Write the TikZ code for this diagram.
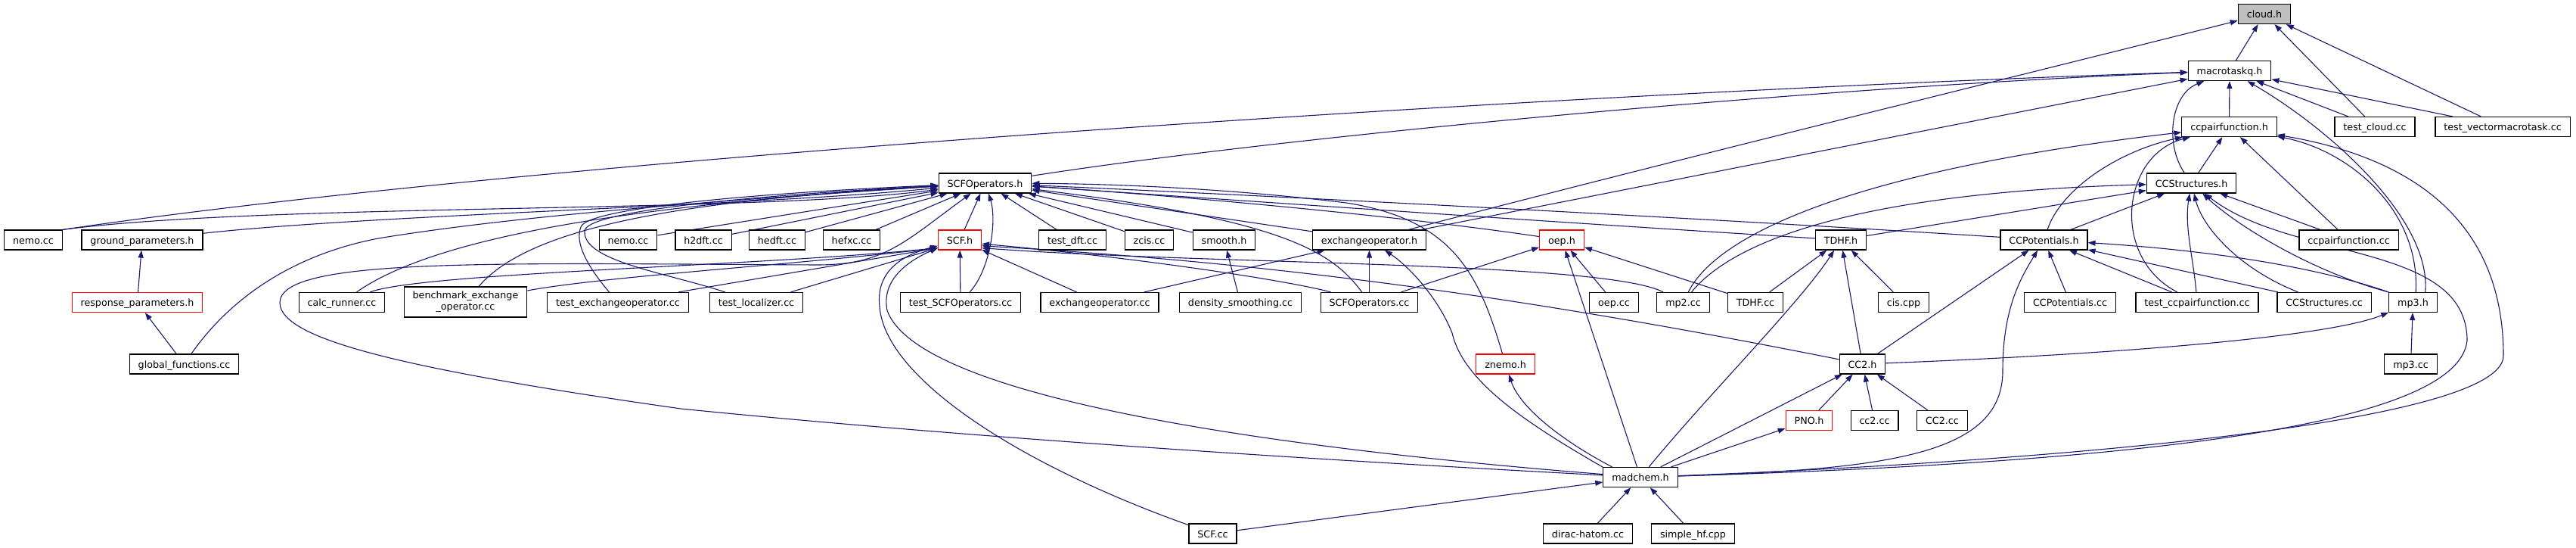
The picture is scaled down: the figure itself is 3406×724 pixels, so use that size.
\documentclass[tikz,border=0pt]{standalone}
\usepackage{fontspec}
\setmainfont{DejaVu Sans}
\usetikzlibrary{arrows.meta,backgrounds}
\definecolor{mblue}{HTML}{191970}
\definecolor{tred}{HTML}{FF0000}
\definecolor{cgray}{HTML}{BFBFBF}
\newcommand\dgf{\fontsize{12.7bp}{15bp}\selectfont}
\tikzset{
 box/.style={rectangle, draw=black, line width=1.2bp, fill=white, minimum height=26bp, inner xsep=11.4bp, inner ysep=0bp, font=\dgf},
 nd/.style={box, text height=10.5bp, text depth=0.5bp},
 ndr/.style={nd, draw=tred},
 ndg/.style={nd, fill=cgray},
 e/.style={draw=mblue, line width=1.1bp, -{Triangle[length=10bp,width=7bp]}},
}
\begin{document}
\begin{tikzpicture}[x=1bp, y=-1bp]
\useasboundingbox (0,0) rectangle (3406,724);
% nodes
\node[ndg] (cloud) at (2994,18.5) {cloud.h};
\node[nd] (macro) at (2948,93.5) {macrotaskq.h};
\node[nd] (ccpfh) at (2947.5,167.5) {ccpairfunction.h};
\node[nd] (tcloud) at (3140,167.5) {test\_cloud.cc};
\node[nd] (tvmt) at (3309,167.5) {test\_vectormacrotask.cc};
\node[nd] (scfoph) at (1302.5,242) {SCFOperators.h};
\node[nd] (ccstrh) at (2897.5,242) {CCStructures.h};
\node[nd] (nemoa) at (44,317) {nemo.cc};
\node[nd] (groundp) at (188,317) {ground\_parameters.h};
\node[nd] (nemob) at (830.5,317) {nemo.cc};
\node[nd] (htwodft) at (930,317) {h2dft.cc};
\node[nd] (hedft) at (1027.5,317) {hedft.cc};
\node[nd] (hefxc) at (1126,317) {hefxc.cc};
\node[ndr] (scfh) at (1269,317) {SCF.h};
\node[nd] (tdft) at (1418,317) {test\_dft.cc};
\node[nd] (zcis) at (1519.5,317) {zcis.cc};
\node[nd] (smooth) at (1618.5,317) {smooth.h};
\node[nd] (exoph) at (1810.5,317) {exchangeoperator.h};
\node[ndr] (oeph) at (2065,317) {oep.h};
\node[nd] (tdhfh) at (2434,317) {TDHF.h};
\node[nd] (ccpoth) at (2702.5,317) {CCPotentials.h};
\node[nd] (ccpfcc) at (3105.5,317) {ccpairfunction.cc};
\node[ndr] (respp) at (181.5,399.5) {response\_parameters.h};
\node[nd] (calc) at (452,399.5) {calc\_runner.cc};
\node[box, align=center, minimum height=40bp] (bench) at (615.5,399) {benchmark\_exchange\\\_operator.cc};
\node[nd] (texop) at (817,399.5) {test\_exchangeoperator.cc};
\node[nd] (tloc) at (1000,399.5) {test\_localizer.cc};
\node[nd] (tscfop) at (1270,399.5) {test\_SCFOperators.cc};
\node[nd] (exopcc) at (1454,399.5) {exchangeoperator.cc};
\node[nd] (dens) at (1640,399.5) {density\_smoothing.cc};
\node[nd] (scfopcc) at (1810.5,399.5) {SCFOperators.cc};
\node[nd] (oepcc) at (2134,399.5) {oep.cc};
\node[nd] (mptwo) at (2225.5,399.5) {mp2.cc};
\node[nd] (tdhfcc) at (2321,399.5) {TDHF.cc};
\node[nd] (cis) at (2517,399.5) {cis.cpp};
\node[nd] (ccpotcc) at (2737,399.5) {CCPotentials.cc};
\node[nd] (tccpf) at (2905,399.5) {test\_ccpairfunction.cc};
\node[nd] (ccstrcc) at (3073,399.5) {CCStructures.cc};
\node[nd] (mpthreeh) at (3190.5,399.5) {mp3.h};
\node[nd] (globalf) at (243.5,481) {global\_functions.cc};
\node[ndr] (znemo) at (1990.5,481) {znemo.h};
\node[nd] (cctwoh) at (2462.5,481) {CC2.h};
\node[nd] (mpthreecc) at (3187.5,481) {mp3.cc};
\node[ndr] (pno) at (2392,555.5) {PNO.h};
\node[nd] (cctwocc) at (2478.5,555.5) {cc2.cc};
\node[nd] (bigcctwocc) at (2568,555.5) {CC2.cc};
\node[nd] (madchem) at (2169,630.5) {madchem.h};
\node[nd] (scfcc) at (1603.5,705) {SCF.cc};
\node[nd] (dirac) at (2099.5,705) {dirac-hatom.cc};
\node[nd] (simplehf) at (2238.5,705) {simple\_hf.cpp};
% edges
\begin{scope}[on background layer]
\fill[white] (0,0) rectangle (3406,724);
% cloud.h
\draw[e] (macro) -- (cloud);
\draw[e] (tcloud) -- (cloud);
\draw[e] (tvmt) -- (cloud);
\draw[e] (exoph) .. controls (2200,215) and (2650,105) .. (cloud);
% macrotaskq.h
\draw[e] (nemoa.north east) .. controls (700,212) and (2000,125) .. (macro);
\draw[e] (scfoph) .. controls (1700,180) and (2400,115) .. (macro);
\draw[e] (exoph) -- (macro);
\draw[e] (ccstrh) .. controls (2862,190) and (2870,125) .. (macro);
\draw[e] (ccpfh) -- (macro);
\draw[e] (mpthreeh.40) .. controls (3215,290) and (3080,170) .. (macro);
\draw[e] (tcloud) -- (macro);
\draw[e] (tvmt) -- (macro);
% ccpairfunction.h
\draw[e] (mptwo) .. controls (2270,310) and (2450,225) .. (ccpfh);
\draw[e] (ccpoth) .. controls (2725,250) and (2800,200) .. (ccpfh);
\draw[e] (tccpf) .. controls (2790,340) and (2805,205) .. (ccpfh);
\draw[e] (ccstrh) -- (ccpfh);
\draw[e] (ccpfcc) -- (ccpfh);
\draw[e] (mpthreeh.75) .. controls (3200,280) and (3110,200) .. (ccpfh);
\draw[e] (madchem) .. controls (2700,610) and (3310,560) .. (3310,470) .. controls (3310,300) and (3200,210) .. (ccpfh);
% CCStructures.h
\draw[e] (mptwo) .. controls (2290,320) and (2450,255) .. (ccstrh);
\draw[e] (tdhfh) -- (ccstrh);
\draw[e] (ccpoth) -- (ccstrh);
\draw[e] (tccpf) .. controls (2900,340) and (2888,300) .. (ccstrh);
\draw[e] (ccstrcc) .. controls (2960,355) and (2912,300) .. (ccstrh);
\draw[e] (mpthreeh.north west) .. controls (3060,360) and (2960,300) .. (ccstrh);
\draw[e] (ccpfcc) -- (ccstrh);
\draw[e] (madchem) .. controls (2850,610) and (3250,560) .. (3262,450) .. controls (3262,320) and (3030,345) .. (ccstrh);
% CCPotentials.h
\draw[e] (ccpoth) .. controls (2200,285) and (1600,255) .. (scfoph);
\draw[e] (cctwoh) -- (ccpoth);
\draw[e] (madchem) .. controls (2500,620) and (2648,600) .. (2648,490) .. controls (2648,410) and (2670,370) .. (ccpoth);
\draw[e] (ccpotcc) -- (ccpoth);
\draw[e] (tccpf) -- (ccpoth);
\draw[e] (mpthreeh.north west) .. controls (3040,345) and (2880,328) .. (ccpoth);
\draw[e] (ccstrcc) -- (ccpoth);
% mp3.h
\draw[e] (cctwoh) .. controls (2800,468) and (3080,445) .. (mpthreeh);
\draw[e] (mpthreecc) -- (mpthreeh);
% TDHF.h
\draw[e] (tdhfh) .. controls (2000,290) and (1600,262) .. (scfoph);
\draw[e] (tdhfcc) -- (tdhfh);
\draw[e] (madchem) .. controls (2260,520) and (2380,400) .. (tdhfh);
\draw[e] (cctwoh) -- (tdhfh);
\draw[e] (cis) -- (tdhfh);
% oep.h
\draw[e] (tdhfcc) -- (oeph);
\draw[e] (oeph) .. controls (1850,285) and (1550,258) .. (scfoph);
\draw[e] (scfopcc) -- (oeph);
\draw[e] (madchem) -- (oeph);
\draw[e] (oepcc) -- (oeph);
% exchangeoperator.h
\draw[e] (exoph) -- (scfoph);
\draw[e] (exopcc) -- (exoph);
\draw[e] (scfopcc) -- (exoph);
\draw[e] (madchem.165) .. controls (2020,560) and (1935,505) .. (1920,440) .. controls (1900,390) and (1860,350) .. (exoph);
% SCF.h
\draw[e] (scfh) -- (scfoph);
\draw[e] (tscfop) .. controls (1310,355) and (1318,290) .. (scfoph);
\draw[e] (tscfop) -- (scfh);
\draw[e] (exopcc) -- (scfh);
\draw[e] (scfopcc) .. controls (1700,370) and (1500,340) .. (scfh.-10);
\draw[e] (mptwo) .. controls (2120,345) and (1600,350) .. (scfh.-20);
\draw[e] (cctwoh) .. controls (1980,385) and (1650,345) .. (scfh.-15);
\draw[e] (scfcc) .. controls (1350,615) and (1170,500) .. (1163,405) .. controls (1158,360) and (1190,338) .. (scfh);
\draw[e] (madchem) .. controls (1720,595) and (1215,530) .. (1173,410) .. controls (1165,370) and (1200,345) .. (scfh.200);
\draw[e] (calc) .. controls (560,360) and (1000,352) .. (scfh.200);
\draw[e] (bench) .. controls (800,365) and (1050,350) .. (scfh.200);
\draw[e] (texop) -- (scfh.200);
\draw[e] (tloc) -- (scfh.200);
% madchem.h
\draw[e] (madchem) .. controls (1600,600) and (1200,570) .. (900,540) .. controls (550,490) and (370,450) .. (370,400) .. controls (370,340) and (650,348) .. (1080,350) .. controls (1170,350) and (1195,320) .. (scfoph);
\draw[e] (scfcc) -- (madchem);
\draw[e] (dirac) -- (madchem);
\draw[e] (simplehf) -- (madchem);
% znemo.h
\draw[e] (madchem.160) .. controls (2070,585) and (2010,540) .. (znemo);
\draw[e] (znemo) .. controls (1955,360) and (1920,290) .. (1780,268) .. controls (1650,252) and (1500,243) .. (scfoph);
% PNO.h / CC2.h
\draw[e] (madchem) -- (pno);
\draw[e] (pno) -- (cctwoh);
\draw[e] (madchem) -- (cctwoh);
\draw[e] (cctwocc) -- (cctwoh);
\draw[e] (bigcctwocc) -- (cctwoh);
% SCFOperators.h right side
\draw[e] (tdft) -- (scfoph);
\draw[e] (zcis) -- (scfoph);
\draw[e] (smooth) -- (scfoph);
\draw[e] (scfopcc) .. controls (1760,330) and (1690,290) .. (scfoph);
\draw[e] (dens) -- (smooth);
% SCFOperators.h left side
\draw[e] (nemob) -- (scfoph);
\draw[e] (htwodft) -- (scfoph);
\draw[e] (hedft) -- (scfoph);
\draw[e] (hefxc) -- (scfoph);
\draw[e] (nemoa.north east) .. controls (350,268) and (1000,282) .. (scfoph);
\draw[e] (groundp) .. controls (500,283) and (1000,272) .. (scfoph);
\draw[e] (globalf) .. controls (300,400) and (380,338) .. (500,315) .. controls (700,282) and (1000,262) .. (scfoph);
\draw[e] (calc) .. controls (580,310) and (850,270) .. (scfoph);
\draw[e] (bench) .. controls (700,300) and (900,265) .. (scfoph);
\draw[e] (texop) .. controls (775,350) and (760,320) .. (768,300) .. controls (775,275) and (1000,255) .. (scfoph);
\draw[e] (tloc) .. controls (880,360) and (770,345) .. (773,305) .. controls (776,278) and (1000,258) .. (scfoph);
% parameters
\draw[e] (respp) -- (groundp);
\draw[e] (globalf) -- (respp);
\end{scope}
\end{tikzpicture}
\end{document}
